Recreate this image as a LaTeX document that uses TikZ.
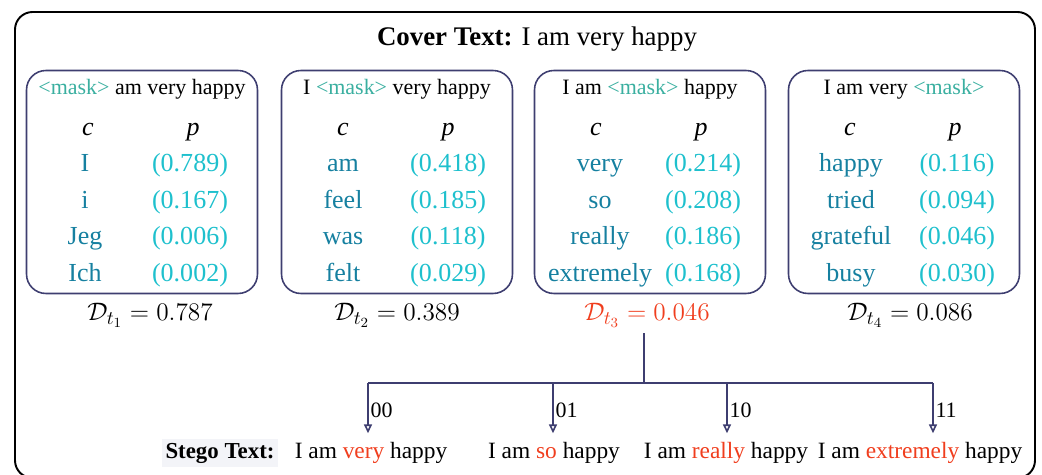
\documentclass[tikz,border=0pt]{standalone}
\usepackage{fontspec}
\setmainfont{Liberation Serif}
\usepackage{xcolor}
\usepackage{tikz}
\usetikzlibrary{arrows.meta,calc,positioning}
\definecolor{frameblue}{RGB}{62,62,112}
\definecolor{maskcol}{RGB}{58,175,160}
\definecolor{candcol}{RGB}{22,128,160}
\definecolor{probcol}{RGB}{30,192,205}
\definecolor{hitred}{RGB}{240,62,30}
\definecolor{stegobg}{RGB}{243,244,248}
\newcommand\msk{\textcolor{maskcol}{<mask>}}
\newcommand\hit[1]{\textcolor{hitred}{#1}}

\begin{document}
\begin{tikzpicture}[x=0.02cm,y=-0.02cm,
  candbox/.style={draw=frameblue,line width=0.9pt,rounded corners=11pt,minimum width=4.62cm,minimum height=4.46cm,inner sep=0pt},
  headtxt/.style={font=\fontsize{12.5}{14}\selectfont,inner sep=0pt},
  cand/.style={font=\fontsize{14.8}{17}\selectfont,text=candcol,inner sep=0pt,text height=10pt,text depth=3pt},
  prob/.style={cand,text=probcol},
  dval/.style={font=\fontsize{15.5}{18}\selectfont},
  tree/.style={draw=frameblue,line width=0.9pt},
  arr/.style={tree,-{Triangle[open,length=5pt,width=4.5pt]},shorten >=3pt},
  stego/.style={font=\fontsize{13.3}{15}\selectfont,inner sep=2pt},
  bits/.style={font=\fontsize{12.5}{14}\selectfont,inner sep=1pt}]
  \useasboundingbox (0,0) rectangle (1042,475);
  % outer frame
  \draw[line width=1.1pt,rounded corners=10pt] (15,12) rectangle (1035,478);
  \node[font=\fontsize{15.3}{18}\selectfont] (cover) at (537,39) {\textbf{Cover Text:} I am very happy};
  % the four masked positions
  \foreach \i/\x in {1/142,2/397,3/650,4/904}
    \node[candbox] (b\i) at (\x,182) {};
  \foreach \i/\h in {1/{\msk{} am very happy},2/{I \msk{} very happy},3/{I am \msk{} happy},4/{I am very \msk}} {
    \node[headtxt] (h\i) at ($(b\i.north)+(0,20)$) {\h};
    \node[cand,text=black] (c\i) at ($(b\i.north)+(-54,59.5)$) {\textit{c}};
    \node[cand,text=black] (p\i) at ($(b\i.north)+(51,59.5)$) {\textit{p}};
  }
  \foreach \w/\q [count=\r] in {I/0.789,i/0.167,Jeg/0.006,Ich/0.002} {
    \node[cand] (w1\r) at ($(b1.north)+(-57,59+36.7*\r)$) {\w};
    \node[prob] (q1\r) at ($(b1.north)+(48,59+36.7*\r)$) {(\q)};
  }
  \foreach \w/\q [count=\r] in {am/0.418,feel/0.185,was/0.118,felt/0.029} {
    \node[cand] (w2\r) at ($(b2.north)+(-54,59+36.7*\r)$) {\w};
    \node[prob] (q2\r) at ($(b2.north)+(51,59+36.7*\r)$) {(\q)};
  }
  \foreach \w/\q [count=\r] in {very/0.214,so/0.208,really/0.186,extremely/0.168} {
    \node[cand] (w3\r) at ($(b3.north)+(-50,59+36.7*\r)$) {\w};
    \node[prob] (q3\r) at ($(b3.north)+(53,59+36.7*\r)$) {(\q)};
  }
  \foreach \w/\q [count=\r] in {happy/0.116,tried/0.094,grateful/0.046,busy/0.030} {
    \node[cand] (w4\r) at ($(b4.north)+(-53,59+36.7*\r)$) {\w};
    \node[prob] (q4\r) at ($(b4.north)+(53,59+36.7*\r)$) {(\q)};
  }
  % distances
  \foreach \i/\dx/\v/\c in {1/8/0.787/black,2/0/0.389/black,3/-3/0.046/hitred,4/6/0.086/black}
    \node[dval,text=\c] (d\i) at ($(b\i.south)+(\dx,21)$) {$\mathcal{D}_{t_{\i}} = \v$};
  % split of the chosen position
  \coordinate (split) at (644,383);
  \foreach \i/\x in {1/368,2/553,3/727,4/933}
    \coordinate (k\i) at (\x,383);
  \draw[tree] (split |- d3.south) -- (split);
  \draw[tree] (k1) -- (k4);
  \node[stego,fill=stegobg,font=\fontsize{13}{15}\selectfont\bfseries] (slab) at (220,453) {Stego Text:};
  \node[stego] (s1) at (371,453) {I am \hit{very} happy};
  \node[stego] (s2) at (554,453) {I am \hit{so} happy};
  \node[stego] (s3) at (726,453) {I am \hit{really} happy};
  \node[stego] (s4) at (920,453) {I am \hit{extremely} happy};
  \foreach \i/\b in {1/00,2/01,3/10,4/11}
    \draw[arr] (k\i) -- (k\i |- s\i.north) node[bits,pos=0.5,anchor=west] (bit\i) {\b};
\end{tikzpicture}
\end{document}
